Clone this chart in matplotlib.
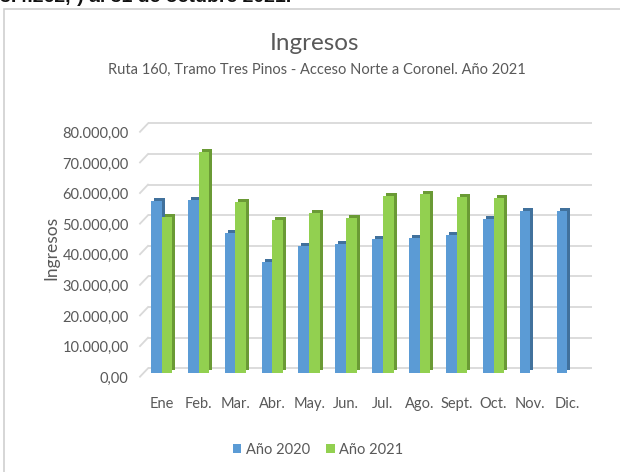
import matplotlib
matplotlib.use("Agg")
import matplotlib.pyplot as plt
import numpy as np
from matplotlib.patches import Rectangle
from matplotlib.transforms import ScaledTranslation

# ---- data
months = ["Ene", "Feb.", "Mar.", "Abr.", "May.", "Jun.", "Jul.", "Ago.",
          "Sept.", "Oct.", "Nov.", "Dic."]
ingresos_2020 = [56400, 56600, 45900, 36500, 41700, 42200, 43800, 44300,
                 45200, 50300, 53000, 53000]
ingresos_2021 = [51000, 72400, 56000, 50100, 52300, 50700, 57900, 58500,
                 57700, 57400]
y_ticks = [0, 10000, 20000, 30000, 40000, 50000, 60000, 70000, 80000]
y_tick_labels = ["0,00", "10.000,00", "20.000,00", "30.000,00", "40.000,00",
                 "50.000,00", "60.000,00", "70.000,00", "80.000,00"]

SERIES = [
    ("Año 2020", ingresos_2020, "#5b9bd5", "#41719c"),
    ("Año 2021", ingresos_2021, "#92d050", "#6a9a35"),
]
TEXT = "#595959"
GRID = "#d9d9d9"
FONT = ["Lato", "DejaVu Sans"]

plt.rcParams["font.family"] = FONT

W, H = 620, 472
fig = plt.figure(figsize=(W / 100, H / 100), dpi=100)
dpx = 1 / 100  # one pixel in inches

# chart frame (cut off on the right / bottom like the screenshot)
fig.add_artist(Rectangle((4 / W, -0.05), 1.0, 1 - 9 / H + 0.05,
                         transform=fig.transFigure, fill=False,
                         edgecolor="#d0d0d0", lw=1.2))
# line of document text above the chart, cropped by the screenshot
fig.text(0.0, 1 - 2 / H, "3.4.262,-) al 31 de octubre 2021.",
         ha="left", va="baseline", fontsize=14, fontweight="bold",
         family=["Liberation Sans", "DejaVu Sans"], color="#111111")

ax = fig.add_axes([144 / W, (H - 373.3) / H, (592 - 144) / W, 251 / H])
ax.set_xlim(-0.48, 11.67)
ax.set_ylim(0, 82000)

# back-wall gridlines, shifted up/right to mimic the 3D wall
wall = ax.get_yaxis_transform() + ScaledTranslation(4 * dpx, 5 * dpx, fig.dpi_scale_trans)
ax.hlines(y_ticks, 0, 1, transform=wall, colors=GRID, lw=1.3, zorder=0)
for v in y_ticks:
    t = fig.dpi_scale_trans + ScaledTranslation(0, v, ax.get_yaxis_transform())
    ax.plot([-4 * dpx, 4 * dpx], [-3.4 * dpx, 5 * dpx], transform=t,
            color=GRID, lw=1.3, clip_on=False, zorder=0)

# bars with a darker offset copy behind for the 3D side / top faces
bw = 0.29
depth = ax.transData + ScaledTranslation(3 * dpx, 3 * dpx, fig.dpi_scale_trans)
x = np.arange(len(months))
for k, (name, vals, face, side) in enumerate(SERIES):
    xs = x[:len(vals)] + (k - 0.5) * bw
    ax.bar(xs, vals, width=bw, color=side, transform=depth, zorder=2 + 2 * k)
    ax.bar(xs, vals, width=bw, color=face, label=name, zorder=3 + 2 * k)

ax.set_yticks(y_ticks)
ax.set_yticklabels(y_tick_labels)
ax.set_xticks(x)
ax.set_xticklabels(months)
ax.tick_params(axis="y", length=0, pad=11, labelsize=10.5, labelcolor=TEXT)
ax.tick_params(axis="x", length=0, pad=17, labelsize=10.5, labelcolor=TEXT)
# y labels sit at the front edge of the floor, a little below the wall lines
front = ScaledTranslation(0, -4 * dpx, fig.dpi_scale_trans)
for lbl in ax.get_yticklabels():
    lbl.set_transform(lbl.get_transform() + front)
for s in ax.spines.values():
    s.set_visible(False)

ax.set_ylabel("Ingresos", fontsize=12.5, color=TEXT, labelpad=2)

fig.text(315 / W, 1 - 44 / H, "Ingresos", ha="center", va="center",
         fontsize=17.5, color=TEXT)
fig.text(317 / W, 1 - 70 / H,
         "Ruta 160, Tramo Tres Pinos - Acceso Norte a Coronel. Año 2021",
         ha="center", va="center", fontsize=10.5, color=TEXT)

leg = fig.legend(loc="center", bbox_to_anchor=(318 / W, 1 - 450 / H), ncol=2,
                 frameon=False, fontsize=10.5, handlelength=0.6,
                 handleheight=0.6, handletextpad=0.3, columnspacing=1.1)
for t in leg.get_texts():
    t.set_color(TEXT)

fig.savefig("out.png", dpi=100)
